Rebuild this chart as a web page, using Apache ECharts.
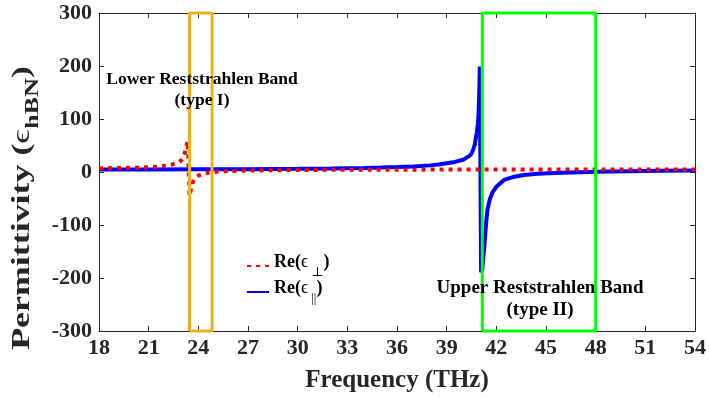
<!DOCTYPE html>
<html>
<head>
<meta charset="utf-8">
<script src="https://cdn.jsdelivr.net/npm/echarts@6/dist/echarts.min.js"></script>
<style>html,body{margin:0;padding:0;background:#fff;}#c{width:709px;height:398px;}</style>
</head>
<body>
<div id="c"></div>
<script>
// ---- data ----
const xTicks = [18, 21, 24, 27, 30, 33, 36, 39, 42, 45, 48, 51, 54];
const yTicks = [-300, -200, -100, 0, 100, 200, 300];
const perpName = 'Re(ϵ⊥)';
const parName = 'Re(ϵ∥)';
const perpX = [18, 19, 20, 21, 21.5, 22, 22.4, 22.8, 23.0, 23.1, 23.2, 23.3, 23.36, 23.42, 23.47, 23.52, 23.6, 23.75, 24.0, 24.2, 24.5, 24.8, 25.2, 25.6, 26, 27, 28, 30, 33, 36, 40, 45, 50, 54];
const perpY = [7, 7.5, 8, 9, 10, 12, 14, 18, 23, 28, 38, 52, 58, 5, -45, -38, -24, -14, -7, -4.5, -2, -0.5, 0.8, 1.5, 2, 2.7, 3.2, 3.8, 4.2, 4.4, 4.6, 4.7, 4.8, 4.8];
const parX = [18, 21, 24, 27, 30, 32, 34, 35, 36, 37, 38, 38.5, 39, 39.5, 40, 40.2, 40.4, 40.5, 40.6, 40.7, 40.76, 40.82, 40.88, 40.92, 40.95, 40.98, 41.0, 41.08, 41.15, 41.2, 41.25, 41.3, 41.4, 41.46, 41.6, 41.76, 42.0, 42.46, 43, 43.66, 44.5, 45.5, 47, 48, 50, 52, 54];
const parY = [4.5, 4.7, 5.0, 5.4, 6.0, 6.6, 7.6, 8.3, 9.3, 10.6, 12.5, 14, 16.5, 19, 23, 27, 31, 35, 42, 52, 64, 75, 88, 105, 130, 165, 199, -189, -185, -165, -150, -130, -90, -72, -52, -39, -28, -15, -9.5, -5.5, -3.5, -2, -0.5, 0.5, 1.5, 2.2, 2.8];
const lowerBand = [23.47, 24.83];
const upperBand = [41.15, 48.0];
const yRange = [-300, 300];

// ---- build ----
const zip = (xs, ys) => xs.map((x, i) => [x, ys[i]]);
const boxPts = (b) => [[b[0], yRange[0]], [b[0], yRange[1]], [b[1], yRange[1]], [b[1], yRange[0]], [b[0], yRange[0]]];
const serif = "'Liberation Serif', 'Times New Roman', 'DejaVu Serif', serif";
const axisCol = '#262626';

const chart = echarts.init(document.getElementById('c'), null, {renderer: 'canvas'});
const baseX = {
  type: 'value', min: xTicks[0], max: xTicks[xTicks.length - 1], interval: xTicks[1] - xTicks[0],
  splitLine: {show: false},
  axisLine: {show: true, onZero: false, lineStyle: {color: axisCol, width: 1}},
  axisTick: {show: true, inside: true, length: 5, lineStyle: {color: axisCol}},
};
const baseY = {
  type: 'value', min: yTicks[0], max: yTicks[yTicks.length - 1], interval: yTicks[1] - yTicks[0],
  splitLine: {show: false},
  axisLine: {show: true, onZero: false, lineStyle: {color: axisCol, width: 1}},
  axisTick: {show: true, inside: true, length: 5, lineStyle: {color: axisCol}},
};
const labelStyle = {color: axisCol, fontFamily: serif, fontWeight: 'bold', fontSize: 22};

chart.setOption({
  animation: false,
  backgroundColor: '#fff',
  grid: {left: 99, right: 10, top: 13, bottom: 66, containLabel: false},
  xAxis: [
    Object.assign({}, baseX, {
      position: 'bottom',
      axisLabel: Object.assign({}, labelStyle, {margin: 6}),
      name: 'Frequency (THz)', nameLocation: 'middle', nameGap: 37,
      nameTextStyle: {color: axisCol, fontFamily: serif, fontWeight: 'bold', fontSize: 25}
    }),
    Object.assign({}, baseX, {position: 'top', axisLabel: {show: false}})
  ],
  yAxis: [
    Object.assign({}, baseY, {position: 'left', axisLabel: Object.assign({}, labelStyle, {margin: 7})}),
    Object.assign({}, baseY, {position: 'right', axisLabel: {show: false}})
  ],
  legend: {
    data: [perpName, parName],
    orient: 'vertical', left: 241, top: 248,
    itemWidth: 22, itemHeight: 14, itemGap: 0,
    itemStyle: {opacity: 0},
    formatter: function (n) { return n === perpName ? '{m|Re(}{e|ϵ}{s|⊥}{m|)}' : '{m|Re(}{e|ϵ}{s|||}{m|)}'; },
    textStyle: {
      rich: {
        m: {fontFamily: serif, fontWeight: 'bold', fontSize: 18, color: '#000', lineHeight: 26, verticalAlign: 'top'},
        e: {fontFamily: serif, fontSize: 18, color: '#000', lineHeight: 26, verticalAlign: 'top', padding: [0, 3, 0, 0]},
        s: {fontFamily: serif, fontSize: 13, color: '#000', lineHeight: 26, verticalAlign: 'bottom'}
      }
    }
  },
  series: [
    {
      name: parName, type: 'line', data: zip(parX, parY), showSymbol: false, symbol: 'none',
      lineStyle: {color: '#0000ff', width: 4}, itemStyle: {color: '#0000ff'}, z: 2
    },
    {
      name: perpName, type: 'line', data: zip(perpX, perpY), showSymbol: false, symbol: 'none',
      lineStyle: {color: '#ff0000', width: 4, type: [4, 5], cap: 'butt'}, itemStyle: {color: '#ff0000'}, z: 3
    },
    {
      name: 'lowerBox', type: 'line', data: boxPts(lowerBand), showSymbol: false, symbol: 'none', clip: false,
      lineStyle: {color: '#EDB120', width: 3}, z: 4, silent: true
    },
    {
      name: 'upperBox', type: 'line', data: boxPts(upperBand), showSymbol: false, symbol: 'none', clip: false,
      lineStyle: {color: '#00ff00', width: 3}, z: 4, silent: true
    }
  ],
  graphic: [
    {
      type: 'text', x: 26, y: 208, rotation: Math.PI / 2, scaleX: 1.38, z: 10,
      style: {
        text: '{m|Permittivity (}{e|ϵ}{s|hBN}{m|)}',
        align: 'center', verticalAlign: 'middle',
        rich: {
          m: {fontFamily: serif, fontWeight: 'bold', fontSize: 26, fill: axisCol, lineHeight: 34, verticalAlign: 'top'},
          e: {fontFamily: serif, fontSize: 26, fill: axisCol, lineHeight: 34, verticalAlign: 'top'},
          s: {fontFamily: serif, fontWeight: 'bold', fontSize: 19, fill: axisCol, lineHeight: 34, verticalAlign: 'bottom'}
        }
      }
    },
    {
      type: 'text', x: 202, y: 69, z: 10,
      style: {text: 'Lower Reststrahlen Band\n(type I)', fontFamily: serif, fontWeight: 'bold', fontSize: 17.5, fill: '#000', align: 'center', lineHeight: 21}
    },
    {
      type: 'text', x: 540, y: 277, z: 10,
      style: {text: 'Upper Reststrahlen Band\n(type II)', fontFamily: serif, fontWeight: 'bold', fontSize: 19, fill: '#000', align: 'center', lineHeight: 22}
    }
  ]
});
</script>
</body>
</html>
